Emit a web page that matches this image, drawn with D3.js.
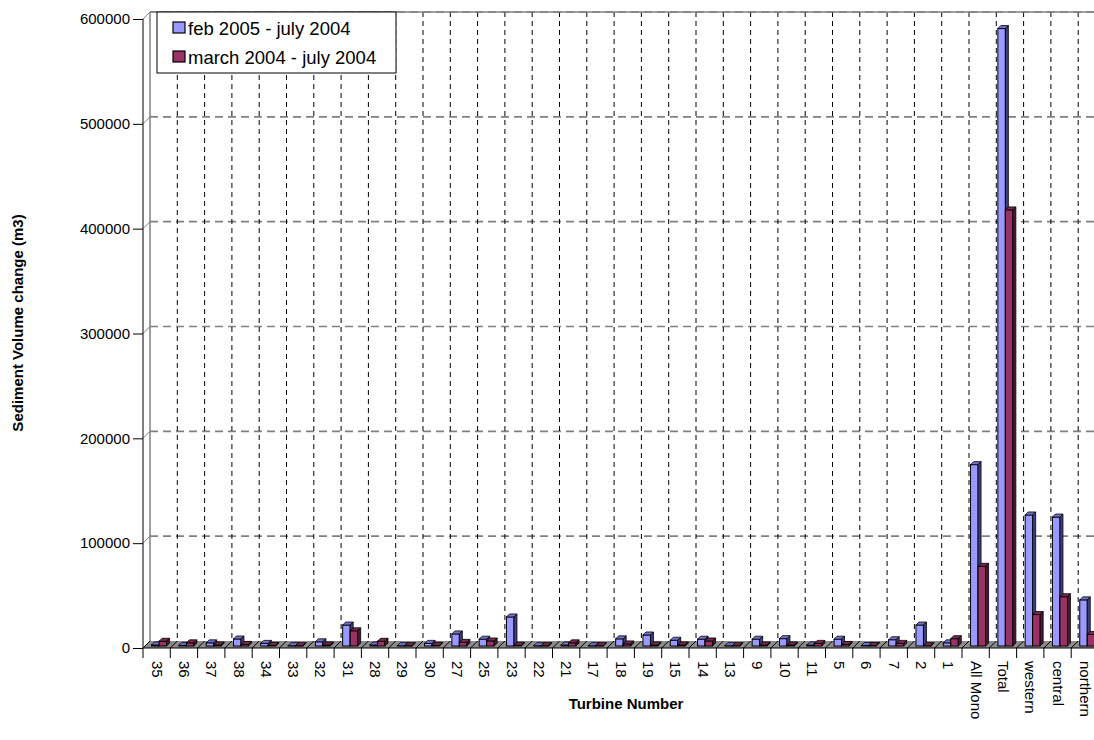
<!DOCTYPE html>
<html>
<head>
<meta charset="utf-8">
<script src="https://cdn.jsdelivr.net/npm/d3@7"></script>
<style>
  body { margin: 0; background: #fff; }
  svg { display: block; font-family: "Liberation Sans", Arial, sans-serif; }
</style>
</head>
<body>
<div id="chart"></div>
<script>
// chart data
const categories = ["35", "36", "37", "38", "34", "33", "32", "31", "28", "29", "30", "27", "25", "23", "22",
  "21", "17", "18", "19", "15", "14", "13", "9", "10", "11", "5", "6", "7", "2", "1",
  "All Mono", "Total", "western", "central", "northern"];
const feb2005 = [1000, 600, 3000, 6700, 2500, 300, 4000, 20000, 1000, 300, 2500, 11500, 6500, 27700, 300,
  1000, 300, 6800, 10500, 5500, 6500, 300, 6500, 7000, 1000, 6500, 500, 6000, 20000, 3000,
  173000, 589000, 125000, 123000, 44000];
const march2004 = [4500, 3000, 1000, 1500, 600, 300, 1000, 14500, 4500, 300, 600, 3500, 4800, 700, 300,
  3000, 300, 2000, 1000, 1000, 4800, 300, 1000, 1000, 2500, 1500, 500, 2500, 300, 7000,
  76000, 416000, 30000, 47000, 11000];
const seriesNames = ["feb 2005 - july 2004", "march 2004 - july 2004"];
const yTicks = [0, 100000, 200000, 300000, 400000, 500000, 600000];

const width = 1094, height = 740;
const x0 = 143, catW = 27.3;
const depth = 7;       // floor / wall depth offset
const barOff = 2;      // bar placed slightly back on the floor
const barD = 3;        // bar own depth

const colors = [
  {front: "#9999ff", top: "#7373cc", side: "#3d3d80"},
  {front: "#993366", top: "#7a2950", side: "#4a1830"}
];

const svg = d3.select("#chart").append("svg")
  .attr("width", width)
  .attr("height", height);

const x = d3.scaleBand()
  .domain(categories)
  .range([x0, x0 + catW * categories.length])
  .paddingInner(0).paddingOuter(0);

const y = d3.scaleLinear()
  .domain([0, 600000])
  .range([648, 19]);

const xEnd = x0 + catW * categories.length;

// back wall gridlines (horizontal)
const grid = svg.append("g");
yTicks.forEach(v => {
  if (v === 0) return;
  grid.append("line")
    .attr("x1", x0 + depth).attr("x2", xEnd + depth)
    .attr("y1", y(v) - depth).attr("y2", y(v) - depth)
    .attr("stroke", "#808080").attr("stroke-width", 1.6)
    .attr("stroke-dasharray", "8,5");
  grid.append("line")
    .attr("x1", x0).attr("x2", x0 + depth)
    .attr("y1", y(v)).attr("y2", y(v) - depth)
    .attr("stroke", "#808080");
});

// vertical dashed gridlines on the back wall
categories.forEach((c, i) => {
  if (i === 0) return;
  grid.append("line")
    .attr("x1", x(c) + depth).attr("x2", x(c) + depth)
    .attr("y1", y(600000) - depth).attr("y2", y(0) - depth)
    .attr("stroke", "#000").attr("stroke-width", 1)
    .attr("stroke-dasharray", "5,4");
});

// wall edges
grid.append("line")
  .attr("x1", x0 + depth).attr("x2", x0 + depth)
  .attr("y1", y(600000) - depth).attr("y2", y(0) - depth)
  .attr("stroke", "#808080").attr("stroke-width", 1.5);
grid.append("line")
  .attr("x1", x0 + depth).attr("x2", xEnd + depth)
  .attr("y1", y(600000) - depth).attr("y2", y(600000) - depth)
  .attr("stroke", "#808080").attr("stroke-width", 1.5);

// floor
svg.append("polygon")
  .attr("points", [[x0, y(0)], [x0 + depth, y(0) - depth], [xEnd + depth, y(0) - depth], [xEnd, y(0)]].join(" "))
  .attr("fill", "#8c8c8c");
categories.forEach(c => {
  svg.append("line")
    .attr("x1", x(c)).attr("x2", x(c) + depth)
    .attr("y1", y(0)).attr("y2", y(0) - depth)
    .attr("stroke", "#000");
});

// 3D bars
const bw = catW * 0.275;
const bars = svg.append("g");
categories.forEach((c, i) => {
  [feb2005[i], march2004[i]].forEach((v, s) => {
    const bx = x(c) + catW * 0.24 + s * bw + barOff;
    const by = y(0) - barOff;
    const ty = y(v) - barOff;
    const col = colors[s];
    bars.append("rect")
      .attr("x", bx).attr("y", ty)
      .attr("width", bw).attr("height", by - ty)
      .attr("fill", col.front).attr("stroke", "#000").attr("stroke-width", 1);
    bars.append("polygon")
      .attr("points", [[bx, ty], [bx + barD, ty - barD], [bx + bw + barD, ty - barD], [bx + bw, ty]].join(" "))
      .attr("fill", col.top).attr("stroke", "#000").attr("stroke-width", 0.8);
    bars.append("polygon")
      .attr("points", [[bx + bw, ty], [bx + bw + barD, ty - barD], [bx + bw + barD, by - barD], [bx + bw, by]].join(" "))
      .attr("fill", col.side).attr("stroke", "#000").attr("stroke-width", 0.8);
  });
});

// front axes
svg.append("line")
  .attr("x1", x0).attr("x2", x0)
  .attr("y1", y(600000)).attr("y2", y(0))
  .attr("stroke", "#000");
svg.append("line")
  .attr("x1", x0 + depth).attr("x2", x0)
  .attr("y1", y(600000) - depth).attr("y2", y(600000))
  .attr("stroke", "#808080");

const yAxis = d3.axisLeft(y).tickValues(yTicks).tickSize(10).tickPadding(3)
  .tickFormat(d3.format("d"));
svg.append("g")
  .attr("transform", `translate(${x0},0)`)
  .call(yAxis)
  .call(g => g.select(".domain").remove())
  .call(g => g.selectAll("text").attr("font-size", 15).attr("fill", "#000")
    .attr("font-family", "'Liberation Sans', Arial, sans-serif"));

const xAxis = d3.axisBottom(x).tickSize(0).tickFormat("");
svg.append("g")
  .attr("transform", `translate(0,${y(0)})`)
  .call(xAxis)
  .call(g => g.select(".domain").attr("d", `M${x0},0H${xEnd}`).attr("stroke", "#000"));

// category boundary ticks
categories.forEach(c => {
  svg.append("line")
    .attr("x1", x(c)).attr("x2", x(c))
    .attr("y1", y(0)).attr("y2", y(0) + 10)
    .attr("stroke", "#000");
});

// rotated category labels
svg.append("g").selectAll("text")
  .data(categories)
  .join("text")
  .attr("transform", d => `translate(${x(d) + catW / 2 - 5},${y(0) + 13}) rotate(90)`)
  .attr("font-size", 15)
  .attr("text-anchor", "start")
  .text(d => d);

// axis titles
svg.append("text")
  .attr("transform", "translate(23,323) rotate(-90)")
  .attr("text-anchor", "middle")
  .attr("font-size", 15)
  .attr("font-weight", "bold")
  .text("Sediment Volume change (m3)");

svg.append("text")
  .attr("x", 626).attr("y", 709)
  .attr("text-anchor", "middle")
  .attr("font-size", 15)
  .attr("font-weight", "bold")
  .text("Turbine Number");

// legend
const legend = svg.append("g");
legend.append("rect")
  .attr("x", 157).attr("y", 12)
  .attr("width", 239).attr("height", 61)
  .attr("fill", "#fff").attr("stroke", "#000");
seriesNames.forEach((name, i) => {
  const ly = 28 + i * 29;
  legend.append("rect")
    .attr("x", 173).attr("y", ly - 6)
    .attr("width", 12).attr("height", 11)
    .attr("fill", colors[i].front).attr("stroke", "#000").attr("stroke-width", 1.2);
  legend.append("text")
    .attr("x", 188).attr("y", ly + 7)
    .attr("font-size", 18.5)
    .text(name);
});
</script>
</body>
</html>
